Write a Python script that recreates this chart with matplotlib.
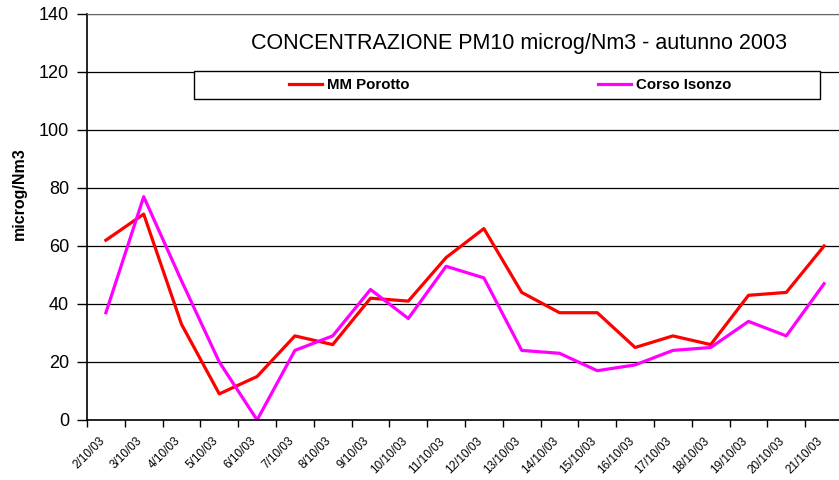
import numpy as np
import matplotlib
matplotlib.use("Agg")
import matplotlib.pyplot as plt
from matplotlib.patches import Rectangle
from matplotlib.transforms import ScaledTranslation
from matplotlib import font_manager

plt.rcParams['font.family'] = ['Liberation Sans', 'DejaVu Sans']

# dati PM10 autunno 2003
dates = ['2/10/03', '3/10/03', '4/10/03', '5/10/03', '6/10/03', '7/10/03', '8/10/03',
         '9/10/03', '10/10/03', '11/10/03', '12/10/03', '13/10/03', '14/10/03', '15/10/03',
         '16/10/03', '17/10/03', '18/10/03', '19/10/03', '20/10/03', '21/10/03']
porotto = [62, 71, 33, 9, 15, 29, 26, 42, 41, 56, 66, 44, 37, 37, 25, 29, 26, 43, 44, 60]
isonzo = [37, 77, 48, 20, 0, 24, 29, 45, 35, 53, 49, 24, 23, 17, 19, 24, 25, 34, 29, 47]
yticks = [0, 20, 40, 60, 80, 100, 120, 140]

names = {f.name for f in font_manager.fontManager.ttflist}
narrow = 'Liberation Sans Narrow' if 'Liberation Sans Narrow' in names else 'Liberation Sans'

fig = plt.figure(figsize=(8.39, 4.8), dpi=100)
ax = fig.add_axes([87/839, 60/480, 756/839, 406/480])

x = np.arange(len(dates))
ax.plot(x, porotto, color='#FF0000', lw=2.3, label='MM Porotto', zorder=2)
ax.plot(x, isonzo, color='#FF00FF', lw=2.3, label='Corso Isonzo', zorder=2)

ax.set_xlim(-0.5, len(dates) - 0.5)
ax.set_ylim(0, 140)
ax.set_yticks(yticks)
ax.yaxis.grid(True, color='black', lw=0.9)
ax.set_axisbelow(True)

# tick ai bordi delle categorie, etichette al centro
ax.set_xticks(np.arange(len(dates) + 1) - 0.5)
ax.set_xticklabels([])
ax.set_xticks(x, minor=True)
ax.set_xticklabels(dates, minor=True, rotation=45, ha='right', va='center',
                   rotation_mode='anchor', fontsize=10.2 if narrow != 'Liberation Sans' else 8.5,
                   family=narrow)
ax.tick_params(axis='x', which='major', length=5, width=1, direction='out')
ax.tick_params(axis='x', which='minor', length=0, pad=14)
ax.tick_params(axis='y', length=7, width=1, labelsize=13, pad=6)
off = ScaledTranslation(-3/100, 0, fig.dpi_scale_trans)
for lab in ax.get_xticklabels(minor=True):
    lab.set_transform(lab.get_transform() + off)

for s in ['left', 'bottom']:
    ax.spines[s].set_linewidth(1.2)
ax.spines['right'].set_visible(False)
ax.spines['top'].set_color('#666666')

ax.set_ylabel('microg/Nm3', fontsize=11.5, fontweight='bold')
ax.yaxis.set_label_coords(-0.079, 0.557)

ax.text(0.572, 0.928, 'CONCENTRAZIONE PM10 microg/Nm3 - autunno 2003',
        transform=ax.transAxes, ha='center', va='center', fontsize=15.5)

# riquadro legenda
ax.add_patch(Rectangle((0.1415, 0.7906), 0.828, 0.069, transform=ax.transAxes,
                       facecolor='white', edgecolor='black', lw=1, zorder=3))
leg = ax.legend(loc='center', bbox_to_anchor=(0.5595, 0.825), ncol=2, frameon=False,
                prop={'weight': 'bold', 'size': 10.8}, handlelength=2.2,
                handletextpad=0.3, columnspacing=12.6)
leg.set_zorder(4)

fig.savefig('out.png', dpi=100)
